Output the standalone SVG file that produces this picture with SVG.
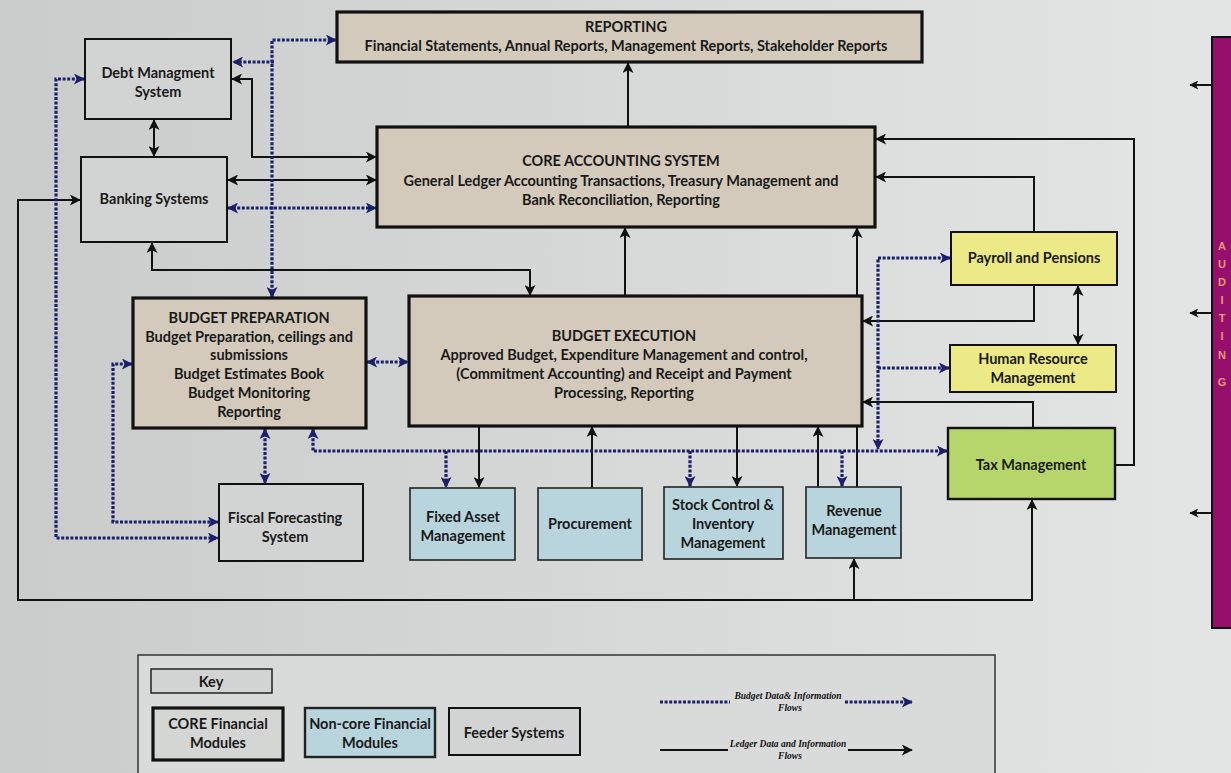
<svg xmlns="http://www.w3.org/2000/svg" width="1231" height="773" viewBox="0 0 1231 773">
  <defs>
    <linearGradient id="bg" x1="0" y1="0" x2="1" y2="0">
      <stop offset="0" stop-color="#c9cccb"/>
      <stop offset="1" stop-color="#e4e6e5"/>
    </linearGradient>
    <marker id="ah" viewBox="0 0 12 12" refX="11" refY="6" markerWidth="12" markerHeight="11" markerUnits="userSpaceOnUse" orient="auto-start-reverse">
      <path d="M0,0 L12,6 L0,12 L3,6 z" fill="#111"/>
    </marker>
    <marker id="ahb" viewBox="0 0 12 12" refX="11" refY="6" markerWidth="12" markerHeight="11" markerUnits="userSpaceOnUse" orient="auto-start-reverse">
      <path d="M0,0 L12,6 L0,12 L3,6 z" fill="#1b1f6c"/>
    </marker>
    <marker id="ahs" viewBox="0 0 12 12" refX="11" refY="6" markerWidth="10" markerHeight="9" markerUnits="userSpaceOnUse" orient="auto">
      <path d="M0,0 L12,6 L0,12 L3,6 z" fill="#111"/>
    </marker>
    <style>
      .t { font-family: Lato, "Liberation Sans", sans-serif; font-weight: 700; font-size: 14.5px; fill: #1a1a1a; text-anchor: middle; }
      .core { fill: #d3cabb; stroke: #111; stroke-width: 3.2; }
      .feed { fill: #d2d4d3; stroke: #111; stroke-width: 2; }
      .noncore { fill: #b8d4dc; stroke: #222; stroke-width: 1.6; }
      .yel { fill: #ebea86; stroke: #111; stroke-width: 2; }
      .grn { fill: #b6d66c; stroke: #111; stroke-width: 2.4; }
      .led { fill: none; stroke: #111; stroke-width: 2; marker-end: url(#ah); }
      .both { marker-start: url(#ah); }
      .bud { fill: none; stroke: #1b1f6c; stroke-width: 3.2; stroke-dasharray: 3 1.6; marker-end: url(#ahb); }
      .bboth { marker-start: url(#ahb); }
      .leg { font-family: "Liberation Serif", serif; font-style: italic; font-weight: 700; font-size: 9.5px; fill: #111; text-anchor: middle; }
      .aud { font-family: "Liberation Sans", sans-serif; font-weight: 700; font-size: 11px; fill: #e39a72; text-anchor: middle; }
    </style>
  </defs>

  <rect width="1231" height="773" fill="url(#bg)"/>

  <!-- connectors -->
  <g id="connectors">
    <!-- ledger data flows (solid) -->
    <path class="led" d="M628,127 V63"/>
    <path class="led both" d="M154,120 V156"/>
    <path class="led both" d="M232,79 H252 V157 H376"/>
    <path class="led both" d="M228,180 H376"/>
    <path class="led both" d="M152,243 V270 H530 V295"/>
    <path class="led" d="M625,296 V228"/>
    <path class="led" d="M857,487 V228"/>
    <path class="led" d="M1115,465 H1134 V139 H876"/>
    <path class="led" d="M1034,232 V177 H876"/>
    <path class="led" d="M1034,285 V321 H863"/>
    <path class="led both" d="M1078,286 V344"/>
    <path class="led" d="M1033,428 V402 H863"/>
    <path class="led" d="M818,487 V427"/>
    <path class="led" d="M479,427 V487"/>
    <path class="led" d="M592,488 V427"/>
    <path class="led" d="M737,427 V486"/>
    <path class="led both" d="M80,200 H18 V600 H1032 V500"/>
    <path class="led" d="M854,600 V559"/>

    <!-- budget data flows (dashed) -->
    <path class="bud bboth" d="M228,208 H376"/>
    <path class="bud bboth" d="M272,297 V40 H336"/>
    <path class="bud" d="M274,62 H233"/>
    <path class="bud bboth" d="M84,79 H56 V538 H218"/>
    <path class="bud bboth" d="M132,364 H113 V522 H218"/>
    <path class="bud bboth" d="M265,429 V483"/>
    <path class="bud bboth" d="M367,362 H408"/>
    <path class="bud bboth" d="M313,429 V451 H947"/>
    <path class="bud" d="M446,451 V487"/>
    <path class="bud" d="M690,451 V486"/>
    <path class="bud" d="M842,451 V486"/>
    <path class="bud bboth" d="M950,258 H878 V449"/>
    <path class="bud" d="M878,368 H949"/>

    <!-- audit outputs -->
    <path d="M1212,85 H1190" stroke="#111" stroke-width="2" marker-end="url(#ahs)"/>
    <path d="M1212,313 H1190" stroke="#111" stroke-width="2" marker-end="url(#ahs)"/>
    <path d="M1212,513 H1190" stroke="#111" stroke-width="2" marker-end="url(#ahs)"/>
  </g>

  <!-- core financial modules -->
  <g id="reporting">
    <rect class="core" x="337" y="12" width="585" height="50"/>
    <text class="t" x="626" y="32">REPORTING</text>
    <text class="t" x="626" y="51">Financial Statements, Annual Reports, Management Reports, Stakeholder Reports</text>
  </g>
  <g id="core-accounting">
    <rect class="core" x="377" y="127" width="498" height="100"/>
    <text class="t" x="621" y="166">CORE ACCOUNTING SYSTEM</text>
    <text class="t" x="621" y="186">General Ledger Accounting Transactions, Treasury Management and</text>
    <text class="t" x="621" y="205">Bank Reconciliation, Reporting</text>
  </g>
  <g id="budget-preparation">
    <rect class="core" x="133" y="298" width="233" height="130"/>
    <text class="t" x="249" y="323">BUDGET PREPARATION</text>
    <text class="t" x="249" y="342">Budget Preparation, ceilings and</text>
    <text class="t" x="249" y="360">submissions</text>
    <text class="t" x="249" y="379">Budget Estimates Book</text>
    <text class="t" x="249" y="398">Budget Monitoring</text>
    <text class="t" x="249" y="417">Reporting</text>
  </g>
  <g id="budget-execution">
    <rect class="core" x="409" y="296" width="453" height="130"/>
    <text class="t" x="624" y="341">BUDGET EXECUTION</text>
    <text class="t" x="624" y="360">Approved Budget, Expenditure Management and control,</text>
    <text class="t" x="624" y="379">(Commitment Accounting) and Receipt and Payment</text>
    <text class="t" x="624" y="398">Processing, Reporting</text>
  </g>

  <!-- feeder systems -->
  <g id="debt-management">
    <rect class="feed" x="85" y="39" width="146" height="80"/>
    <text class="t" x="158" y="78">Debt Managment</text>
    <text class="t" x="158" y="97">System</text>
  </g>
  <g id="banking">
    <rect class="feed" x="81" y="157" width="146" height="85"/>
    <text class="t" x="154" y="204">Banking Systems</text>
  </g>
  <g id="fiscal-forecasting">
    <rect class="feed" x="219" y="484" width="144" height="77"/>
    <text class="t" x="285" y="523">Fiscal Forecasting</text>
    <text class="t" x="285" y="542">System</text>
  </g>

  <!-- non-core financial modules -->
  <g id="fixed-asset">
    <rect class="noncore" x="410" y="488" width="105" height="72"/>
    <text class="t" x="463" y="522">Fixed Asset</text>
    <text class="t" x="463" y="541">Management</text>
  </g>
  <g id="procurement">
    <rect class="noncore" x="538" y="488" width="104" height="72"/>
    <text class="t" x="590" y="529">Procurement</text>
  </g>
  <g id="stock-control">
    <rect class="noncore" x="664" y="487" width="119" height="72"/>
    <text class="t" x="723" y="510">Stock Control &amp;</text>
    <text class="t" x="723" y="529">Inventory</text>
    <text class="t" x="723" y="548">Management</text>
  </g>
  <g id="revenue">
    <rect class="noncore" x="806" y="487" width="95" height="71"/>
    <text class="t" x="854" y="516">Revenue</text>
    <text class="t" x="854" y="535">Management</text>
  </g>

  <!-- other systems -->
  <g id="payroll">
    <rect class="yel" x="951" y="232" width="166" height="53"/>
    <text class="t" x="1034" y="263">Payroll and Pensions</text>
  </g>
  <g id="hrm">
    <rect class="yel" x="950" y="345" width="166" height="47"/>
    <text class="t" x="1033" y="364">Human Resource</text>
    <text class="t" x="1033" y="383">Management</text>
  </g>
  <g id="tax">
    <rect class="grn" x="948" y="428" width="167" height="71"/>
    <text class="t" x="1031" y="470">Tax Management</text>
  </g>

  <!-- auditing bar -->
  <g id="auditing">
    <rect x="1212" y="37" width="24" height="591" fill="#970f6c" stroke="#111" stroke-width="2"/>
    <text class="aud" x="1222" y="250">A</text>
    <text class="aud" x="1222" y="268">U</text>
    <text class="aud" x="1222" y="286">D</text>
    <text class="aud" x="1222" y="304">I</text>
    <text class="aud" x="1222" y="322">T</text>
    <text class="aud" x="1222" y="340">I</text>
    <text class="aud" x="1222" y="359">N</text>
    <text class="aud" x="1222" y="386">G</text>
  </g>

  <!-- key -->
  <g id="key">
    <path d="M138,775 V655 H995 V775" fill="#d9dbda" stroke="#333" stroke-width="1.5"/>
    <rect x="151" y="669" width="121" height="24" fill="#d2d4d3" stroke="#222" stroke-width="1.5"/>
    <text class="t" x="211" y="687">Key</text>
    <rect class="core" x="153" y="708" width="130" height="52" style="fill:#d4d6d4"/>
    <text class="t" x="218" y="729">CORE Financial</text>
    <text class="t" x="218" y="748">Modules</text>
    <rect class="noncore" x="305" y="708" width="130" height="49" style="stroke-width:2.4"/>
    <text class="t" x="370" y="729">Non-core Financial</text>
    <text class="t" x="370" y="748">Modules</text>
    <rect class="feed" x="449" y="708" width="131" height="47"/>
    <text class="t" x="514" y="738">Feeder Systems</text>
    <path d="M660,702 H730 M845,702 H905" fill="none" stroke="#1b1f6c" stroke-width="3" stroke-dasharray="3 1.6"/>
    <path d="M905,702 H912" stroke="#1b1f6c" stroke-width="3" marker-end="url(#ahb)"/>
    <text class="leg" x="788" y="699">Budget Data&amp; Information</text>
    <text class="leg" x="790" y="711">Flows</text>
    <path d="M660,750 H728 M848,750 H912" fill="none" stroke="#111" stroke-width="2" marker-end="url(#ah)"/>
    <text class="leg" x="788" y="747">Ledger Data and Information</text>
    <text class="leg" x="790" y="759">Flows</text>
  </g>
</svg>
